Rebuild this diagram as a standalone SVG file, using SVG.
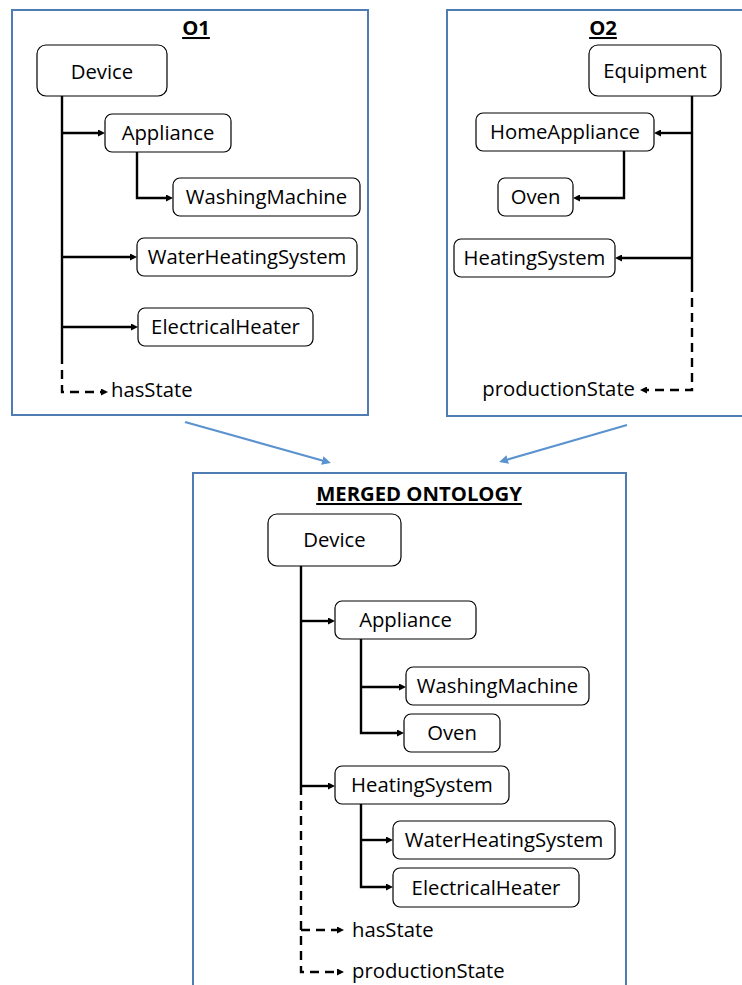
<svg xmlns="http://www.w3.org/2000/svg" width="742" height="985" viewBox="0 0 742 985">
<defs>
<style>
.frame{fill:none;stroke:#4f7db3;stroke-width:2}
.node rect{fill:#fff;stroke:#000;stroke-width:1.2}
text{font-family:"Open Sans","Liberation Sans",sans-serif;font-size:20.3px;fill:#000}
.node text{text-anchor:middle}
.title{font-weight:bold;text-anchor:middle;text-decoration:underline}
.c{fill:none;stroke:#000;stroke-width:2.4}
.c.arr{marker-end:url(#ah)}
.d{fill:none;stroke:#000;stroke-width:2.4;stroke-dasharray:9 6}
.d.arr{marker-end:url(#ah)}
.b{fill:none;stroke:#5b93cf;stroke-width:2.2;marker-end:url(#bh)}
</style>
<marker id="ah" viewBox="0 0 10 10" refX="0" refY="5" markerWidth="7" markerHeight="7" markerUnits="userSpaceOnUse" orient="auto"><path d="M0,0 L10,5 L0,10z" fill="#000"/></marker>
<marker id="bh" viewBox="0 0 10 10" refX="2" refY="5" markerWidth="9" markerHeight="9" markerUnits="userSpaceOnUse" orient="auto"><path d="M0,0 L10,5 L0,10z" fill="#5b93cf"/></marker>
</defs>
<rect width="742" height="985" fill="#fff"/>

<!-- frames -->
<g id="frame-o1"><rect class="frame" x="12" y="10" width="356" height="405"/><text class="title" x="196" y="35">O1</text></g>
<g id="frame-o2"><rect class="frame" x="447" y="10" width="310" height="406"/><text class="title" x="603" y="35">O2</text></g>
<g id="frame-merged"><rect class="frame" x="193" y="473" width="433" height="530"/><text class="title" x="419" y="501">MERGED ONTOLOGY</text></g>

<g id="connectors">
<!-- O1 -->
<path class="c" d="M62,96 V355"/>
<path class="c arr" d="M62,133 H98"/>
<path class="c arr" d="M137,152 V198 H166"/>
<path class="c arr" d="M62,257 H130"/>
<path class="c arr" d="M62,327 H131"/>
<path class="d arr" d="M62,355 V392 H101"/>
<!-- O2 -->
<path class="c" d="M692,96 V283"/>
<path class="c arr" d="M692,133 H661"/>
<path class="c arr" d="M624,151 V198 H580"/>
<path class="c arr" d="M692,258 H622"/>
<path class="d arr" d="M692,283 V390 H647"/>
<!-- merge arrows -->
<path class="b" d="M185,422 L324,461"/>
<path class="b" d="M627,425 L506,460"/>
<!-- merged -->
<path class="c" d="M301,566 V786"/>
<path class="c arr" d="M301,621 H328"/>
<path class="c arr" d="M361,639 V733 H397"/>
<path class="c arr" d="M361,687 H399"/>
<path class="c arr" d="M301,786 H328"/>
<path class="c arr" d="M361,804 V887 H386"/>
<path class="c arr" d="M361,840 H386"/>
<path class="d arr" d="M301,786 V972 H337"/>
<path class="d arr" d="M301,930 H337"/>
</g>

<!-- O1 nodes -->
<g id="o1-device" class="node"><rect x="37" y="45" width="130" height="51" rx="9"/><text x="102" y="79">Device</text></g>
<g id="o1-appliance" class="node"><rect x="105" y="114" width="126" height="38" rx="7"/><text x="168" y="140">Appliance</text></g>
<g id="o1-washingmachine" class="node"><rect x="173" y="178" width="187" height="38" rx="7"/><text x="266.5" y="204">WashingMachine</text></g>
<g id="o1-waterheatingsystem" class="node"><rect x="137" y="238" width="220" height="38" rx="7"/><text x="247" y="264">WaterHeatingSystem</text></g>
<g id="o1-electricalheater" class="node"><rect x="138" y="308" width="175" height="38" rx="7"/><text x="225.5" y="334">ElectricalHeater</text></g>
<g id="o1-hasstate"><text x="111" y="397">hasState</text></g>

<!-- O2 nodes -->
<g id="o2-equipment" class="node"><rect x="589" y="45" width="132" height="51" rx="9"/><text x="655" y="78">Equipment</text></g>
<g id="o2-homeappliance" class="node"><rect x="476" y="113" width="178" height="38" rx="7"/><text x="565" y="139">HomeAppliance</text></g>
<g id="o2-oven" class="node"><rect x="498" y="178" width="75" height="38" rx="7"/><text x="535.5" y="204">Oven</text></g>
<g id="o2-heatingsystem" class="node"><rect x="454" y="239" width="161" height="38" rx="7"/><text x="534.5" y="265">HeatingSystem</text></g>
<g id="o2-productionstate"><text x="635" y="396" text-anchor="end">productionState</text></g>

<!-- merged nodes -->
<g id="m-device" class="node"><rect x="268" y="514" width="133" height="52" rx="9"/><text x="334.5" y="547">Device</text></g>
<g id="m-appliance" class="node"><rect x="335" y="601" width="141" height="38" rx="7"/><text x="405.5" y="627">Appliance</text></g>
<g id="m-washingmachine" class="node"><rect x="406" y="667" width="183" height="38" rx="7"/><text x="497.5" y="693">WashingMachine</text></g>
<g id="m-oven" class="node"><rect x="404" y="714" width="96" height="38" rx="7"/><text x="452" y="740">Oven</text></g>
<g id="m-heatingsystem" class="node"><rect x="335" y="766" width="174" height="38" rx="7"/><text x="422" y="792">HeatingSystem</text></g>
<g id="m-waterheatingsystem" class="node"><rect x="393" y="821" width="222" height="38" rx="7"/><text x="504" y="847">WaterHeatingSystem</text></g>
<g id="m-electricalheater" class="node"><rect x="393" y="868" width="186" height="39" rx="7"/><text x="486" y="894.5">ElectricalHeater</text></g>
<g id="m-hasstate"><text x="352" y="937">hasState</text></g>
<g id="m-productionstate"><text x="352" y="978">productionState</text></g>
</svg>
